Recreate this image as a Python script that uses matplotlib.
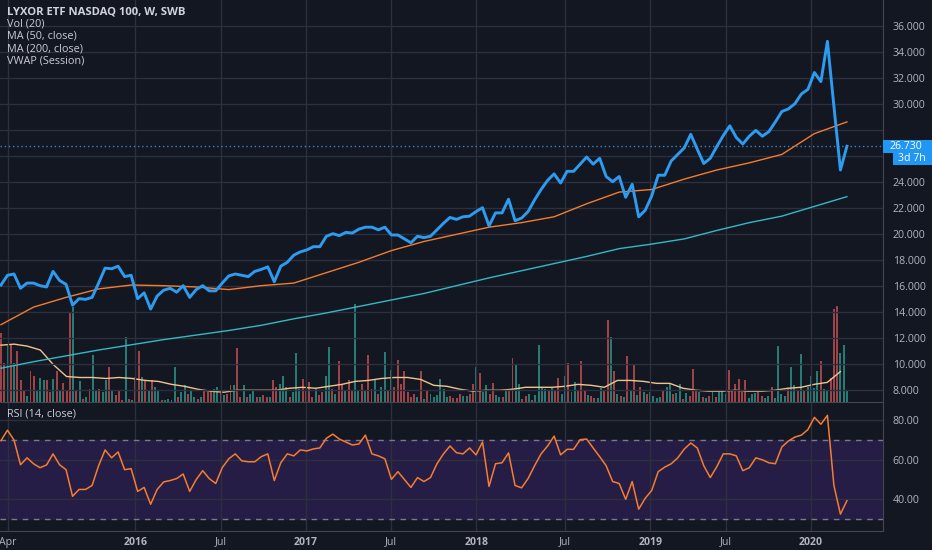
import numpy as np
import matplotlib
matplotlib.use("Agg")
import matplotlib.pyplot as plt
from matplotlib.patches import Rectangle
from matplotlib.transforms import blended_transform_factory

plt.rcParams["font.family"] = ["Open Sans", "DejaVu Sans"]

# weekly closes, sampled every other week (Mar 2015 - Mar 2020)
close = [16.05, 16.8, 16.9, 15.8, 16.2, 16.2, 16.0, 15.9, 17.1, 16.4,
         16.1, 14.5, 15.0, 14.95, 15.1, 16.2, 17.35, 17.3, 17.5, 16.7,
         16.8, 15.0, 15.45, 14.2, 15.2, 15.65, 15.8, 15.5, 16.0, 15.1,
         15.7, 16.0, 15.6, 15.6, 16.2, 16.75, 16.9, 16.8, 16.7, 17.1,
         17.25, 17.45, 16.3, 17.5, 17.8, 18.35, 18.6, 18.75, 19.0, 19.0,
         19.8, 20.0, 19.85, 20.1, 20.05, 20.35, 20.5, 20.5, 20.3, 20.5,
         19.9, 19.9, 19.6, 19.3, 19.8, 19.7, 19.8, 20.3, 20.8, 21.25,
         21.1, 21.3, 21.35, 21.7, 22.0, 20.6, 21.6, 21.6, 22.65, 21.0,
         21.2, 21.7, 22.6, 23.4, 24.1, 24.6, 23.9, 24.8, 24.8, 25.35,
         25.9, 25.35, 25.8, 24.4, 24.0, 24.4, 22.8, 23.8, 21.3, 21.8,
         22.9, 24.5, 24.5, 25.6, 26.1, 26.6, 27.65, 26.5, 25.4, 25.8,
         26.7, 27.55, 28.3, 27.4, 26.9, 27.5, 27.95, 27.5, 27.85, 28.6,
         29.4, 29.6, 30.0, 30.75, 31.1, 32.4, 31.7, 34.8, 29.8, 24.9,
         26.73]

rsi_vals = [69.7, 75.0, 70.0, 57.5, 61.0, 58.0, 56.0, 57.4, 63.0, 57.5,
            55.0, 41.5, 45.0, 45.0, 47.0, 57.0, 65.0, 61.0, 64.0, 55.0,
            55.5, 44.0, 46.0, 37.5, 45.0, 48.8, 49.5, 50.5, 52.8, 44.0,
            50.0, 54.5, 50.5, 48.0, 56.0, 60.5, 63.0, 59.5, 59.0, 59.0,
            61.6, 63.0, 49.5, 58.5, 63.0, 62.0, 65.0, 64.5, 65.5, 66.0,
            70.9, 73.0, 70.5, 69.0, 67.5, 68.0, 72.5, 63.0, 62.0, 60.5,
            50.1, 54.0, 50.0, 46.0, 51.0, 49.0, 51.0, 58.0, 63.0, 67.0,
            63.6, 63.0, 66.0, 62.5, 69.0, 46.5, 58.0, 58.5, 63.5, 47.0,
            45.8, 50.5, 57.0, 63.0, 67.0, 72.0, 62.5, 65.3, 65.3, 70.2,
            70.5, 66.0, 61.6, 57.0, 49.0, 48.0, 40.0, 49.0, 35.0, 40.5,
            44.5, 54.0, 56.3, 58.0, 61.0, 65.4, 68.5, 66.0, 57.0, 51.0,
            56.5, 63.0, 63.0, 62.0, 54.5, 56.0, 61.0, 60.0, 58.5, 58.0,
            66.5, 69.5, 71.5, 72.5, 75.3, 81.5, 78.0, 82.5, 47.0, 32.5,
            39.3]

# moving averages, every 5th sample of the close series
ma50 = [13.0, 14.35, 15.1, 15.75, 16.05, 16.0, 15.9, 15.7, 16.0, 16.2,
        17.0, 17.8, 18.7, 19.4, 19.95, 20.5, 20.85, 21.3, 22.3, 23.2,
        23.4, 24.2, 24.9, 25.45, 26.1, 27.7, 28.6]
ma200 = [9.65, 10.15, 10.6, 11.05, 11.45, 11.85, 12.2, 12.55, 12.95, 13.45,
         13.9, 14.4, 14.9, 15.4, 16.0, 16.6, 17.15, 17.7, 18.25, 18.85,
         19.2, 19.6, 20.25, 20.85, 21.35, 22.1, 22.85]

# weekly volume (arbitrary units) and bar direction u=up, d=down
vol = [70, 40, 58, 58, 40, 52, 22, 12, 6, 32,
       27, 12, 24, 22, 22, 10, 23, 32, 12, 19,
       12, 92, 97, 12, 21, 3, 5, 13, 48, 12,
       13, 10, 22, 36, 12, 7, 12, 2, 66, 3,
       2, 25, 52, 26, 22, 12, 22, 15, 12, 2,
       2, 3, 2, 36, 5, 10, 17, 8, 12, 5,
       3, 5, 12, 10, 12, 13, 15, 10, 7, 8,
       17, 17, 55, 5, 17, 5, 8, 12, 5, 5,
       7, 5, 5, 22, 15, 18, 27, 15, 5, 10,
       50, 13, 23, 12, 20, 5, 13, 7, 10, 27,
       56, 13, 8, 42, 17, 12, 22, 12, 100, 12,
       18, 12, 48, 13, 22, 8, 15, 51, 12, 33,
       15, 43, 18, 32, 10, 5, 8, 5, 32, 3,
       12, 8, 5, 7,
       23, 13, 5, 6, 4, 4, 8, 6, 6, 8,
       18, 36, 30, 10, 17, 8, 19, 7, 5, 5,
       12, 13, 45, 38, 18, 3, 6, 8, 2, 7,
       58, 15, 13, 12, 14, 12, 24, 8, 27, 40,
       10, 20, 12, 42, 12, 7, 6, 4, 4, 14,
       12, 84, 66, 32, 8, 6, 5, 47, 12, 39,
       7, 15, 10, 8, 10, 6, 4, 5, 11, 15,
       18, 8, 9, 18, 3, 9, 6, 34, 12, 10,
       5, 4, 6, 10, 5, 11, 12, 8, 33, 12,
       18, 23, 10, 22, 4, 8, 9, 11, 6, 4,
       6, 15, 4, 57, 8, 6, 13, 36, 17, 12,
       49, 11, 15, 27, 14, 32, 42, 13, 12, 24,
       95, 98, 50, 58, 11]
vol_dir = ("ddududddud" "duuuddudud" "ddudududuu" "duududddud" "uddududuud"
           "uuuuduuduu" "duddduudud" "dudduduudu" "ddudduuudu" "uudddduddu"
           "ududdudduu" "dudduduudu" "dddddddudu" "duuu"
           "uuudddduud" "duduudduud" "udduuddudu" "uuududduud" "uudddudduu"
           "ddudududud" "ududuuuudu" "uduududddu" "dududuuudd" "dddduuuddu"
           "uduuuuduud" "uduuuuduud" "dduuu")
# 20-period volume MA, every 4th week
vol_ma = [58, 59, 57, 53, 38, 26, 25, 25, 24, 25,
          24, 22, 21, 18, 16, 13, 11, 10, 12, 12,
          12, 12, 14, 15, 14, 16, 18, 21, 22, 24,
          25, 25, 23, 17, 16, 13, 11, 12, 12, 13,
          15, 15, 15, 16, 18, 17, 15, 22, 22, 21,
          19, 19, 14, 12, 11, 11, 12, 11, 11, 12,
          14, 15, 18, 20, 31]

tick_weeks = [2, 41, 67, 93, 119, 145, 172, 198, 221, 247]
tick_labels = ["Apr", "2016", "Jul", "2017", "Jul", "2018", "Jul", "2019", "Jul", "2020"]
price_ticks = list(range(8, 37, 2))
last_price = 26.73

BG = "#131722"
GRID = "#2c303c"
AXIS = "#434651"
TXT = "#b2b5be"
BLUE = "#2d9bf0"

W, H = 932, 550


def rect(l, t, r, b):
    return [l / W, 1 - b / H, (r - l) / W, (b - t) / H]


weeks = np.arange(len(vol))
px = np.linspace(0, len(vol) - 1, len(close))
ma_x = px[::5]
xlim = (-0.3, 269)

fig = plt.figure(figsize=(W / 100, H / 100), dpi=100, facecolor=BG)

# ---- main panel
ax = fig.add_axes(rect(0, 0, 883, 402))
ax_vol = ax.twinx()
ax.set_zorder(ax_vol.get_zorder() + 1)
ax.patch.set_visible(False)
ax_vol.patch.set_visible(True)
ax_vol.set_facecolor(BG)

colors = ["#2a8f84" if d == "u" else "#b84d4f" for d in vol_dir]
ax_vol.bar(weeks, vol, width=0.6, color=colors, alpha=0.85, linewidth=0)
ax_vol.plot(weeks[::4], vol_ma, color="#f1c48f", lw=1)
ax_vol.set_ylim(0, max(vol) * 4.1)
ax_vol.set_yticks([])
for s in ax_vol.spines.values():
    s.set_visible(False)

ax.plot(ma_x, ma200, color="#33b9c6", lw=1)
ax.plot(ma_x, ma50, color="#f57c2a", lw=1)
ax.axhline(last_price, color="#3d84c6", lw=1, ls=(0, (1, 2)))
ax.plot(px, close, color=BLUE, lw=2.1, solid_joinstyle="round", zorder=5)

ax.set_xlim(*xlim)
ax.set_ylim(7.05, 37.98)
ax.set_yticks(price_ticks)
# the 26 label sits under the last-price tags
ax.set_yticklabels(["" if abs(v - last_price) < 1.5 else f"{v:.3f}" for v in price_ticks])
ax.yaxis.tick_right()
ax.set_xticks(tick_weeks)
ax.grid(True, color=GRID, lw=1)
ax.tick_params(axis="x", length=0, labelbottom=False)
ax.tick_params(axis="y", length=0, pad=7, colors=TXT, labelsize=7.6)
for side in ["top", "left"]:
    ax.spines[side].set_visible(False)
ax.spines["right"].set_color(AXIS)
ax.spines["bottom"].set_color(AXIS)

# price labels on the scale
tr = blended_transform_factory(fig.transFigure, ax.transData)
ax.add_patch(Rectangle((883 / W, last_price - 0.5), 49 / W, 1.0, transform=tr,
                       facecolor="#2196f3", edgecolor="none", clip_on=False, zorder=10))
ax.add_patch(Rectangle((893 / W, last_price - 1.45), 39 / W, 0.95, transform=tr,
                       facecolor="#2196f3", edgecolor="none", clip_on=False, zorder=10))
ax.text(890 / W, last_price, f"{last_price:.3f}", transform=tr, color="white",
        fontsize=7.6, va="center", ha="left", zorder=11, clip_on=False)
ax.text(898 / W, last_price - 0.98, "3d 7h", transform=tr, color="white",
        fontsize=7.6, va="center", ha="left", zorder=11, clip_on=False)

# ---- RSI panel
rsi = fig.add_axes(rect(0, 402, 883, 531), facecolor=BG)
rsi.axhspan(30, 70, color="#251d45", zorder=0)
rsi.axhline(70, color="#787b86", lw=1, ls=(0, (4, 4)))
rsi.axhline(30, color="#787b86", lw=1, ls=(0, (4, 4)))
rsi.plot(px, rsi_vals, color="#f57c32", lw=1.1, zorder=5)
rsi.set_xlim(*xlim)
rsi.set_ylim(23.95, 89.27)
rsi.set_yticks([40, 60, 80])
rsi.set_yticklabels(["40.00", "60.00", "80.00"])
rsi.yaxis.tick_right()
rsi.set_xticks(tick_weeks)
rsi.set_xticklabels(tick_labels)
for lbl in rsi.get_xticklabels():
    if lbl.get_text().isdigit():
        lbl.set_fontweight("bold")
rsi.grid(True, color=GRID, lw=1)
rsi.tick_params(axis="x", length=0, pad=4, colors=TXT, labelsize=7.6)
rsi.tick_params(axis="y", length=0, pad=7, colors=TXT, labelsize=7.6)
for side in ["top", "left"]:
    rsi.spines[side].set_visible(False)
rsi.spines["right"].set_color(AXIS)
rsi.spines["bottom"].set_color(AXIS)

# ---- legend texts
fig.text(7 / W, 1 - 12.3 / H, "LYXOR ETF NASDAQ 100, W, SWB", color="#d1d4dc",
         fontsize=8.1, fontweight="bold", va="center")
for y, s in [(24.3, "Vol (20)"), (36.5, "MA (50, close)"),
             (48.8, "MA (200, close)"), (61.2, "VWAP (Session)")]:
    fig.text(7 / W, 1 - y / H, s, color="#c9ccd4", fontsize=7.8, va="center")
fig.text(7 / W, 1 - 414 / H, "RSI (14, close)", color="#c9ccd4", fontsize=7.8, va="center")

fig.savefig("out.png", dpi=100, facecolor=BG)
